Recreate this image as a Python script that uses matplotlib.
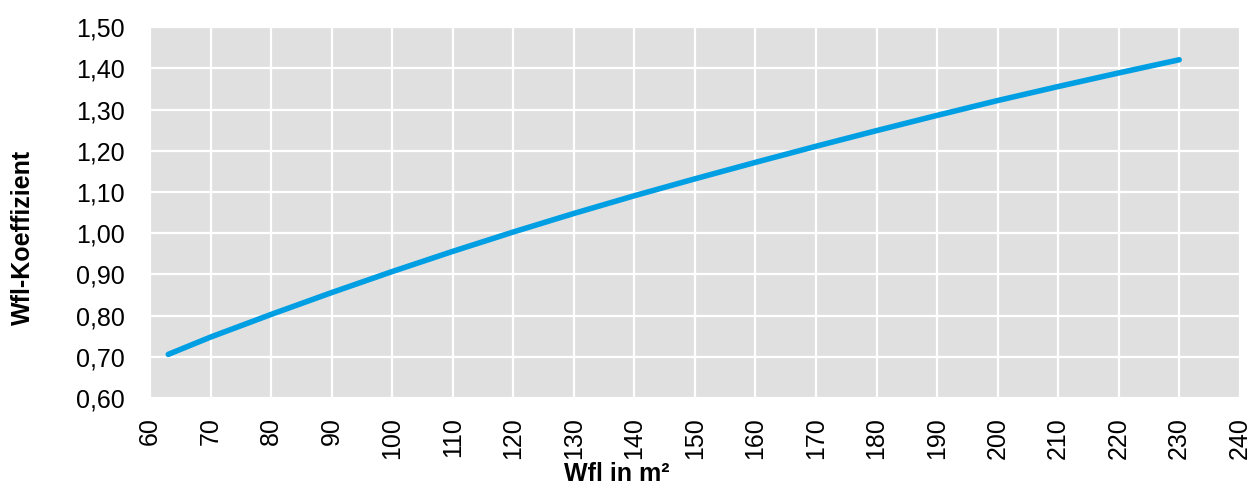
import matplotlib
matplotlib.use("Agg")
import matplotlib.pyplot as plt
from matplotlib.ticker import FuncFormatter

wfl = [63, 70, 80, 90, 100, 110, 120, 130, 140, 150, 160, 170, 180, 190, 200, 210, 220, 230]
koeff = [0.706, 0.748, 0.803, 0.856, 0.907, 0.956, 1.003, 1.048, 1.091, 1.132, 1.172,
         1.211, 1.249, 1.286, 1.322, 1.356, 1.389, 1.421]
xticks = list(range(60, 241, 10))
yticks = [0.6, 0.7, 0.8, 0.9, 1.0, 1.1, 1.2, 1.3, 1.4, 1.5]

plt.rcParams['font.family'] = ['Liberation Sans', 'DejaVu Sans']

fig = plt.figure(figsize=(12.51, 4.86), dpi=100)
ax = fig.add_axes([0.12, 0.181, 0.871, 0.763])
ax.set_facecolor('#E0E0E0')
ax.plot(wfl, koeff, color='#009FE3', linewidth=4, solid_capstyle='round', zorder=3)

ax.set_xlim(60, 240)
ax.set_ylim(0.6, 1.5)
ax.set_xticks(xticks)
ax.set_yticks(yticks)
ax.yaxis.set_major_formatter(FuncFormatter(lambda v, p: f"{v:.2f}".replace('.', ',')))
ax.tick_params(axis='x', labelrotation=90, labelsize=18, length=0, pad=14)
ax.tick_params(axis='y', labelsize=18, length=0, pad=18)
ax.grid(True, color='white', linewidth=1.6)
ax.set_axisbelow(True)
for s in ax.spines.values():
    s.set_visible(False)

fig.text(617 / 1251, 5 / 486, 'Wfl in m²', fontsize=18, fontweight='bold',
         ha='center', va='baseline')
fig.text(23 / 1251, 1 - 237 / 486, 'Wfl-Koeffizient', fontsize=18, fontweight='bold',
         ha='center', va='center', rotation=90)

fig.savefig('out.png', dpi=100)
